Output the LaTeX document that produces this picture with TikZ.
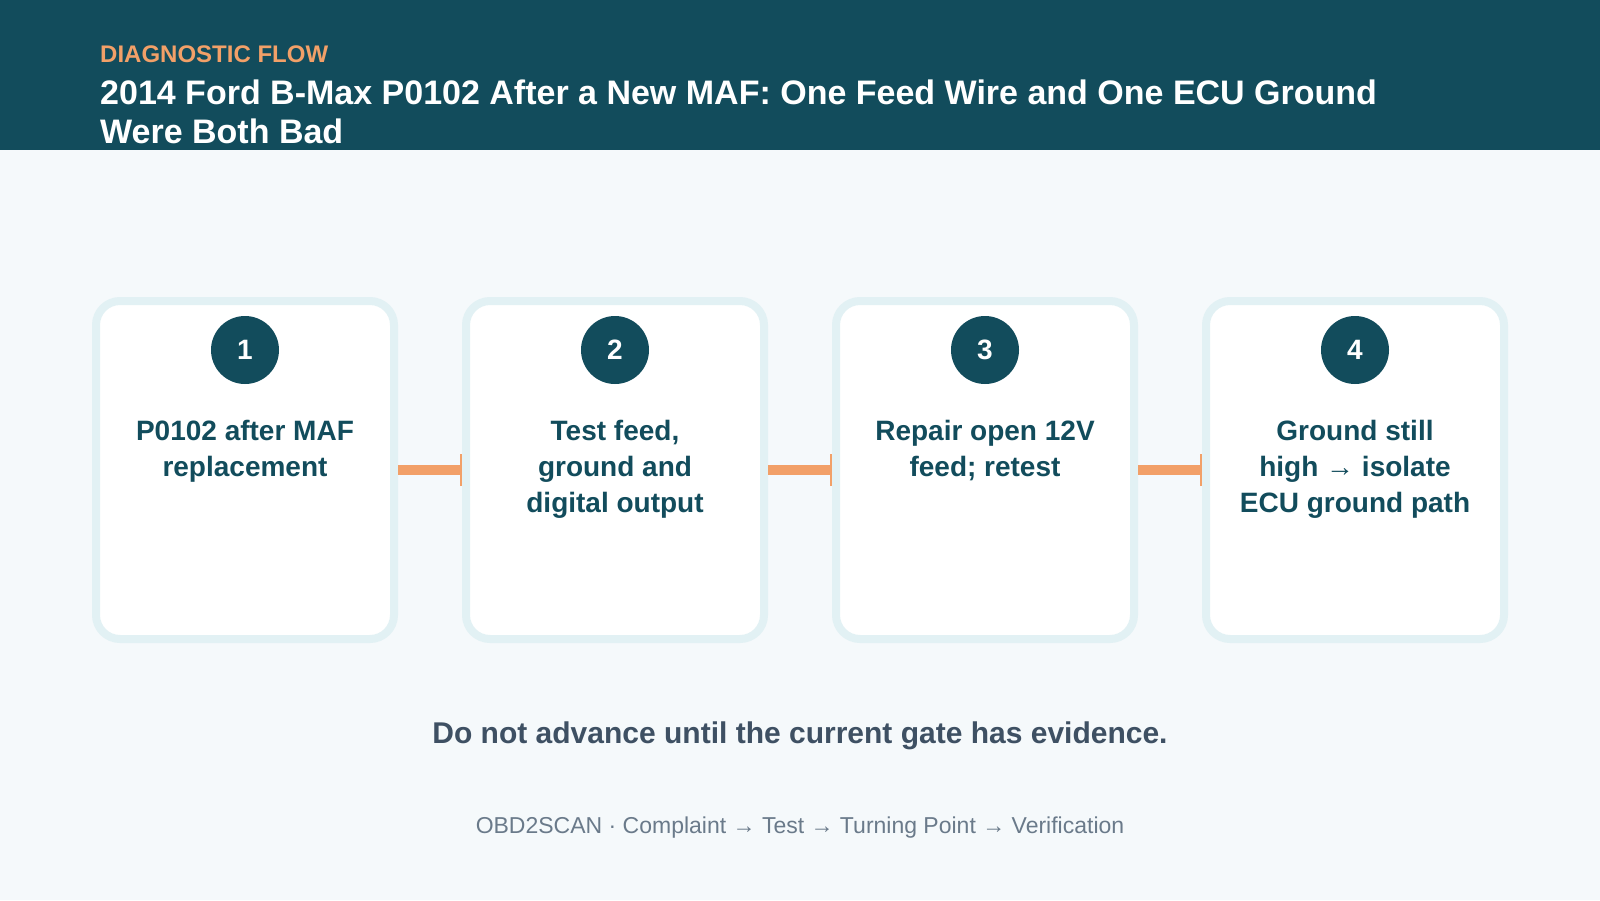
\documentclass[tikz,border=0pt]{standalone}
\usepackage{fontspec}
\setmainfont{Liberation Sans}
\begin{document}
\begin{tikzpicture}[x=1pt,y=-1pt,
  box/.style={draw=boxedge,line width=8pt,fill=white,rounded corners=24pt,minimum width=298pt,minimum height=338pt,inner sep=0pt},
  num/.style={circle,fill=teal,minimum size=68pt,inner sep=0pt,text=white,font=\fontsize{28}{32}\selectfont\bfseries},
  lbl/.style={align=center,text=teal,font=\fontsize{28}{36}\selectfont\bfseries,anchor=north},
  conn/.style={draw=orange,line width=10pt}]
\definecolor{teal}{HTML}{124C5C}
\definecolor{boxedge}{HTML}{E2F1F4}
\definecolor{orange}{HTML}{F2A068}
\definecolor{bg}{HTML}{F5F9FB}
\definecolor{note}{HTML}{3E5063}
\definecolor{foot}{HTML}{6A7A8A}
\useasboundingbox (0,0) rectangle (1600,900);
\fill[bg] (0,0) rectangle (1600,900);
\fill[teal] (0,0) rectangle (1600,150);
\node[anchor=west,text=orange,font=\fontsize{24}{28}\selectfont\bfseries,inner sep=0pt] (kick) at (100,54) {DIAGNOSTIC FLOW};
\node[anchor=north west,align=left,text=white,font=\fontsize{34}{38.5}\selectfont\bfseries,inner sep=0pt] (title) at (100,80) {2014 Ford B-Max P0102 After a New MAF: One Feed Wire and One ECU Ground\\Were Both Bad};
\foreach \i/\x/\t in {1/245/{P0102 after MAF\\replacement},2/615/{Test feed,\\ground and\\digital output},3/985/{Repair open 12V\\feed; retest},4/1355/{Ground still\\high → isolate\\ECU ground path}}{
  \node[box] (b\i) at (\x,470) {};
  \node[num] (n\i) at (\x,350) {\i};
  \node[lbl] (l\i) at (\x,417) {\t};
}
\foreach \a/\b in {1/2,2/3,3/4}{
  \draw[conn] ([xshift=0pt]b\a.east) -- ([xshift=-1pt]b\b.west);
  \draw[orange,line width=2pt] ([xshift=-1pt,yshift=-16pt]b\b.west) -- ([xshift=-1pt,yshift=16pt]b\b.west);
}
\node[font=\fontsize{30}{34}\selectfont\bfseries,text=note] (note) at (800,736) {Do not advance until the current gate has evidence.};
\node[font=\fontsize{23}{27}\selectfont,text=foot] (foot) at (800,828) {OBD2SCAN · Complaint → Test → Turning Point → Verification};
\end{tikzpicture}
\end{document}
